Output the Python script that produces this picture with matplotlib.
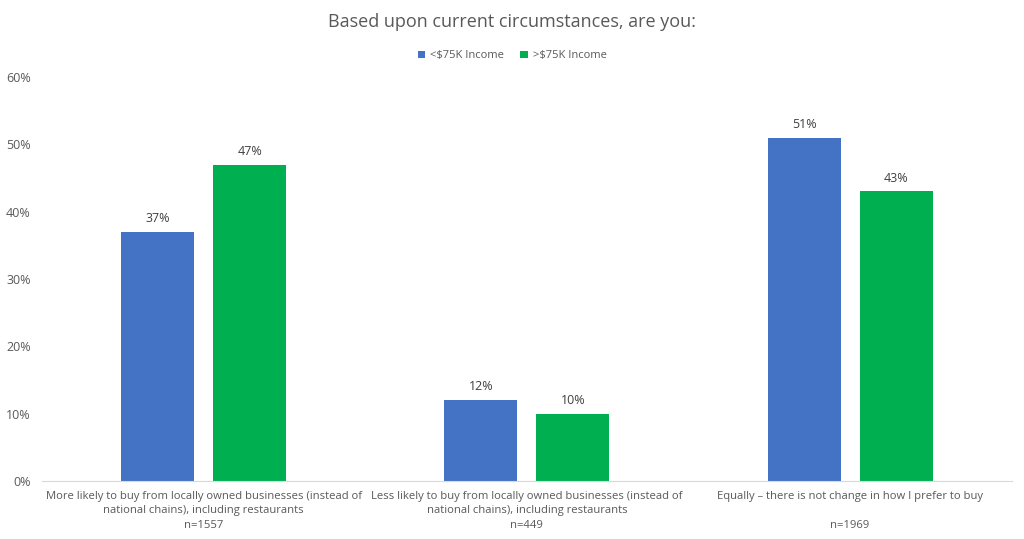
import numpy as np
import matplotlib
matplotlib.use("Agg")
import matplotlib.pyplot as plt
from matplotlib.ticker import PercentFormatter

plt.rcParams['font.family'] = ['Open Sans', 'DejaVu Sans']

categories = [
    "More likely to buy from locally owned businesses (instead of\nnational chains), including restaurants\nn=1557",
    "Less likely to buy from locally owned businesses (instead of\nnational chains), including restaurants\nn=449",
    "Equally \u2013 there is not change in how I prefer to buy\n\nn=1969",
]
low_income = [37, 12, 51]
high_income = [47, 10, 43]
series_names = ["<$75K Income", ">$75K Income"]

blue = "#4472C4"
green = "#00B050"
text_col = "#595959"

fig = plt.figure(figsize=(10.24, 5.39), dpi=100)
ax = fig.add_axes([0.041, 0.108, 0.947, 0.749])

x = np.arange(len(categories))
w = 0.226
gap = 0.059
b1 = ax.bar(x - (w + gap) / 2, low_income, w, color=blue, label=series_names[0])
b2 = ax.bar(x + (w + gap) / 2, high_income, w, color=green, label=series_names[1])

for bars in (b1, b2):
    ax.bar_label(bars, labels=[f"{v:.0f}%" for v in bars.datavalues],
                 padding=5, fontsize=9, color="#404040")

ax.set_xlim(-0.5, 2.5)
ax.set_ylim(0, 60)
ax.set_yticks(range(0, 61, 10))
ax.yaxis.set_major_formatter(PercentFormatter(decimals=0))
ax.set_xticks(x)
ax.set_xticklabels(categories, fontsize=8.1, color=text_col, linespacing=1.45)
ax.tick_params(axis='y', labelsize=9, labelcolor=text_col, length=0, pad=8)
ax.tick_params(axis='x', length=0, pad=7)

for s in ("top", "right", "left"):
    ax.spines[s].set_visible(False)
ax.spines["bottom"].set_color("#D9D9D9")

fig.suptitle("Based upon current circumstances, are you:", y=0.975,
             fontsize=13, color=text_col)
fig.legend(loc="upper center", bbox_to_anchor=(0.5, 0.925), ncol=2,
           frameon=False, fontsize=8, handlelength=0.7, handleheight=0.7,
           columnspacing=1.5, handletextpad=0.4, labelcolor=text_col)

fig.savefig("out.png", dpi=100)
